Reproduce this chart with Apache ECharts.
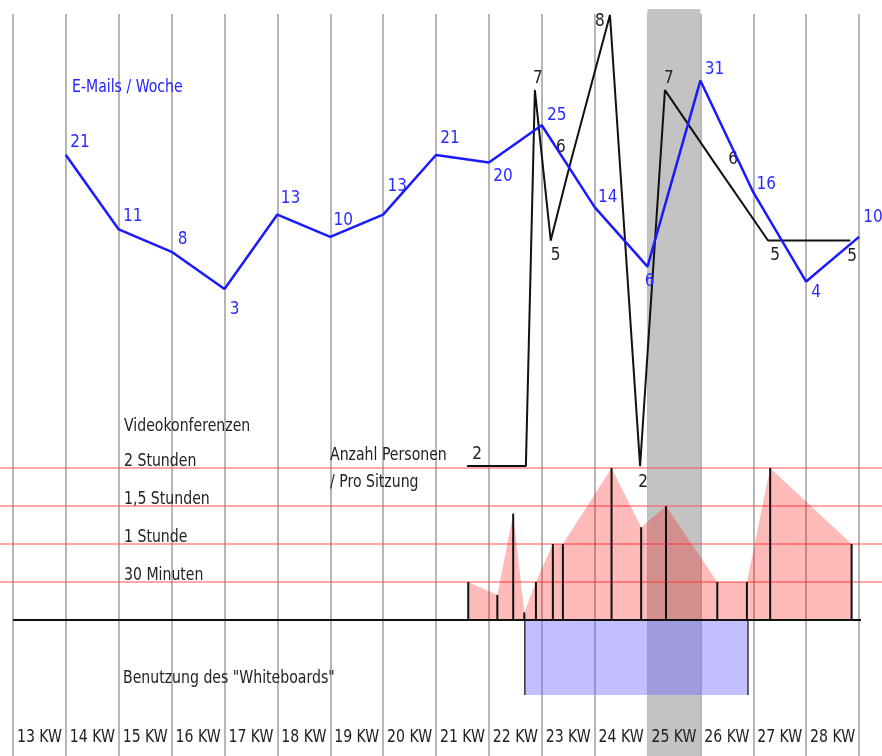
<!DOCTYPE html>
<html><head><meta charset="utf-8">
<script src="https://cdn.jsdelivr.net/npm/echarts@6/dist/echarts.min.js"></script>
<style>html,body{margin:0;padding:0;background:#fff}#c{width:882px;height:756px}</style>
</head><body><div id="c"></div>
<script>
// ---------- data ----------
const weekLabels = ['13 KW','14 KW','15 KW','16 KW','17 KW','18 KW','19 KW','20 KW','21 KW','22 KW','23 KW','24 KW','25 KW','26 KW','27 KW','28 KW'];
const emailsPerWeek = [21,11,8,3,13,10,13,21,20,25,14,6,31,16,4,10];
const personSessionWeeks = [21.59,22.70,22.87,23.17,23.53,24.29,24.86,25.33,26.30,27.28,28.83];
const personsPerSession = [2,2,7,5,6,8,2,7,6,5,5];
const videoSessionWeeks = [21.61,22.16,22.46,22.67,22.89,23.21,23.40,24.32,24.88,25.35,26.32,26.88,27.32,28.86];
const videoHours = [0.5,0.33,1.4,0.1,0.5,1.0,1.0,2.0,1.22,1.5,0.5,0.5,2.0,1.0];
const videoLevels = [0.5,1,1.5,2];
const videoLevelLabels = ['30 Minuten','1 Stunde','1,5 Stunden','2 Stunden'];
const whiteboardSpan = [22.68,26.90];
const highlightWeek = 25;

// ---------- layout / style ----------
const FONT_FAMILY = "'Liberation Sans Narrow','DejaVu Sans Condensed','Noto Sans',sans-serif";
const FONT = '18px ' + FONT_FAMILY;
const SX = 0.87; // condensed look
const GRID_TOP = 14, H = 756;
function calib(v1,p1,v2,p2){const s=(p2-p1)/(v2-v1);return {min:v1+(H-p1)/s,max:v1+(GRID_TOP-p1)/s};}
const emailAxis = calib(21,155,3,289);
const personAxis = calib(2,466,8,15);
const videoAxis = calib(0,620,2,468);

const emailLabelOffsets = [[14,-12],[14,-13],[11,-12],[10,21],[13,-16],[13,-16],[14,-28],[14,-16],[14,14],[15,-10],[13,-10],[2,15],[14,-11],[13,-8],[10,11],[14,-19]];
const personLabelOffsets = [[10,-11],null,[3,-12],[5,15],[-9,-18],[-10,7],[3,17],[4,-12],[17,-6],[7,15],[2,16]];

const emailData = emailsPerWeek.map((v,i)=>({value:[14+i,v],label:{show:true,position:'inside',offset:emailLabelOffsets[i]}}));
const personData = personsPerSession.map((v,i)=>({value:[personSessionWeeks[i],v],label:{show:!!personLabelOffsets[i],position:'inside',offset:personLabelOffsets[i]||[0,0]}}));
const videoData = videoSessionWeeks.map((w,i)=>[w,videoHours[i]]);

function txt(x,y,text,fill,align){
  return {type:'text',x:x,y:y,scaleX:SX,style:{x:0,y:0,text:text,font:FONT,fill:fill||'#222',verticalAlign:'middle',align:align||'left'}};
}

const chart = echarts.init(document.getElementById('c'), null, {renderer:'canvas'});
chart.setOption({
  animation:false,
  backgroundColor:'#fff',
  grid:{left:13,right:23,top:GRID_TOP,bottom:0},
  xAxis:[
    {type:'value',min:13,max:29,interval:1,axisLine:{show:false},axisTick:{show:false},axisLabel:{show:false},
     splitLine:{show:true,lineStyle:{color:'#9e9e9e',width:1.5}}}
  ],
  yAxis:[
    {type:'value',show:false,min:emailAxis.min,max:emailAxis.max},
    {type:'value',show:false,min:personAxis.min,max:personAxis.max},
    {type:'value',show:false,min:videoAxis.min,max:videoAxis.max}
  ],
  graphic:[
    Object.assign(txt(72,87,'E-Mails / Woche','#2323ff'),{z:50}),
    Object.assign(txt(124,426,'Videokonferenzen'),{z:50}),
    Object.assign(txt(330,455,'Anzahl Personen'),{z:50}),
    Object.assign(txt(330,482,'/ Pro Sitzung'),{z:50}),
    Object.assign(txt(123,678,'Benutzung des "Whiteboards"'),{z:50})
  ],
  series:[
    {type:'custom',name:'highlight',xAxisIndex:0,yAxisIndex:2,z:0,silent:true,data:[[highlightWeek,0]],
     renderItem:(params,api)=>{const x0=api.coord([api.value(0),0])[0];const x1=api.coord([api.value(0)+1,0])[0];
       return {type:'rect',shape:{x:x0,y:params.coordSys.y-5,width:x1-x0,height:api.getHeight()},style:{fill:'#c3c3c3'}};}},
    {type:'custom',name:'weeks',xAxisIndex:0,yAxisIndex:2,z:7,silent:true,data:weekLabels.map((l,i)=>[13+i+0.5,0]),
     renderItem:(params,api)=>{const x=api.coord([api.value(0),0])[0];
       return txt(x,737,weekLabels[params.dataIndex],'#222','center');}},
    {type:'custom',name:'levels',xAxisIndex:0,yAxisIndex:2,z:2,silent:true,data:videoLevels.map(v=>[13,v]),
     renderItem:(params,api)=>{const y=api.coord([13,api.value(1)])[1];
       return {type:'group',children:[
         {type:'line',shape:{x1:0,y1:y,x2:api.getWidth(),y2:y},style:{stroke:'rgba(255,80,80,0.5)',lineWidth:2}},
         txt(124,y-7,videoLevelLabels[params.dataIndex])
       ]};}},
    {type:'line',name:'video',xAxisIndex:0,yAxisIndex:2,z:3,data:videoData,symbol:'none',lineStyle:{width:0},
     areaStyle:{color:'rgba(255,0,0,0.27)',opacity:1}},
    {type:'custom',name:'whiteboard',xAxisIndex:0,yAxisIndex:2,z:3,silent:true,data:[[whiteboardSpan[0],whiteboardSpan[1]]],
     encode:{x:[0,1]},
     renderItem:(params,api)=>{const p0=api.coord([api.value(0),0]);const p1=api.coord([api.value(1),0]);
       return {type:'group',children:[
         {type:'rect',shape:{x:p0[0],y:p0[1],width:p1[0]-p0[0],height:75},style:{fill:'rgba(110,100,255,0.42)'}},
         {type:'line',shape:{x1:p0[0],y1:p0[1],x2:p0[0],y2:p0[1]+75},style:{stroke:'#333',lineWidth:1.5}},
         {type:'line',shape:{x1:p1[0],y1:p1[1],x2:p1[0],y2:p1[1]+75},style:{stroke:'#333',lineWidth:1.5}}
       ]};}},
    {type:'custom',name:'sticks',xAxisIndex:0,yAxisIndex:2,z:4,silent:true,data:videoData,
     renderItem:(params,api)=>{const a=api.coord([api.value(0),0]);const b=api.coord([api.value(0),api.value(1)]);
       return {type:'line',shape:{x1:a[0],y1:a[1],x2:b[0],y2:b[1]},style:{stroke:'#111',lineWidth:2}};}},
    {type:'custom',name:'baseline',xAxisIndex:0,yAxisIndex:2,z:4,silent:true,data:[[13,0]],
     renderItem:(params,api)=>{const a=api.coord([13,0]);const b=api.coord([29,0]);
       return {type:'line',shape:{x1:a[0],y1:a[1],x2:b[0]+2,y2:b[1]},style:{stroke:'#111',lineWidth:2}};}},
    {type:'line',name:'persons',xAxisIndex:0,yAxisIndex:1,z:5,data:personData,symbol:'circle',symbolSize:1,
     itemStyle:{color:'#111'},lineStyle:{color:'#111',width:2},
     label:{color:'#222',fontFamily:FONT_FAMILY,fontSize:17}},
    {type:'line',name:'emails',xAxisIndex:0,yAxisIndex:0,z:6,data:emailData,symbol:'circle',symbolSize:1,
     itemStyle:{color:'#1a1aff'},lineStyle:{color:'#1a1aff',width:2.5},
     label:{color:'#2b2bff',fontFamily:FONT_FAMILY,fontSize:17}}
  ]
});
</script>
</body></html>
